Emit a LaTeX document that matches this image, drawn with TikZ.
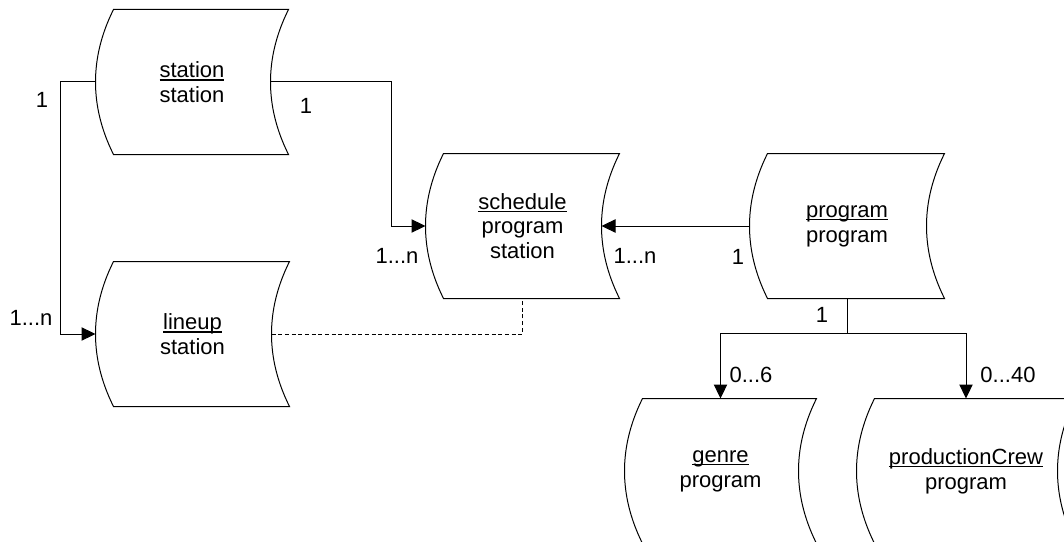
\documentclass[tikz,border=0pt]{standalone}
\usepackage{fontspec}
\setmainfont{Liberation Sans}
\usetikzlibrary{arrows.meta,calc}

\newsavebox{\ulbox}
\newcommand{\ulword}[1]{\sbox{\ulbox}{#1}\rlap{\rule[-2.4pt]{\wd\ulbox}{1.2pt}}\usebox{\ulbox}}

\tikzset{
  store/.style={minimum width=#1, minimum height=108pt, inner sep=0pt, align=center,
    font=\fontsize{16.5}{18.6}\selectfont},
  mult/.style={inner sep=0pt, font=\fontsize{16.5}{18.6}\selectfont},
  link/.style={-{Triangle[length=10.5pt,width=10pt]}},
}

\begin{document}
\begin{tikzpicture}[x=0.75pt, y=-0.75pt, line width=0.75pt]
			\useasboundingbox (0,0) rectangle (1064,542);
			% stores
			\node[store=144pt] (station) at (192,82) {\ulword{station}\\station};
			\node[store=144.75pt] (lineup) at (192.5,334) {\ulword{lineup}\\station};
			\node[store=144.75pt] (sched) at (522.5,226) {\ulword{schedule}\\program\\station};
			\node[store=145.5pt] (prog) at (847,226) {\ulword{program}\\program};
			\node[store=143.25pt] (genre) at (720.5,471) {\ulword{genre}\\program};
			\node[store=163.5pt] (crew) at (966,471) {\ulword{productionCrew}\\program};
			\foreach \n in {station,lineup,sched,prog,genre,crew}
				\draw (\n.north east) .. controls ($(\n.north east)+(-24,48)$) and ($(\n.south east)+(-24,-48)$) .. (\n.south east)
					-- ($(\n.south west)+(18,0)$) .. controls ($(\n.south west)+(-6,-48)$) and ($(\n.north west)+(-6,48)$) .. ($(\n.north west)+(18,0)$) -- cycle;
			% links
			\draw[link] (station.west) -- ++(-35,0) |- (lineup.west);
			\draw[link] ($(station.east)+(-18,0)$) -- ++(121,0) |- (sched.west);
			\draw[link] (prog.west) -- ($(sched.east)+(-18,0)$);
			\draw (prog.south) -- ++(0,35) coordinate (fork);
			\draw[link] (fork) -| (genre.north);
			\draw[link] (fork) -| (crew.north);
			\draw[dash pattern=on 3pt off 2pt] ($(lineup.east)+(-18,0)$) -| (sched.south);
			% multiplicities
			\node[mult] (m1) at (42,100) {1};
			\node[mult] (m2) at (306,106) {1};
			\node[mult] (m3) at (31,318) {1...n};
			\node[mult] (m4) at (397,256) {1...n};
			\node[mult] (m5) at (635,256) {1...n};
			\node[mult] (m6) at (738,257) {1};
			\node[mult] (m7) at (822,315) {1};
			\node[mult] (m8) at (751,375) {0...6};
			\node[mult] (m9) at (1008,375) {0...40};
			\end{tikzpicture}
\end{document}
